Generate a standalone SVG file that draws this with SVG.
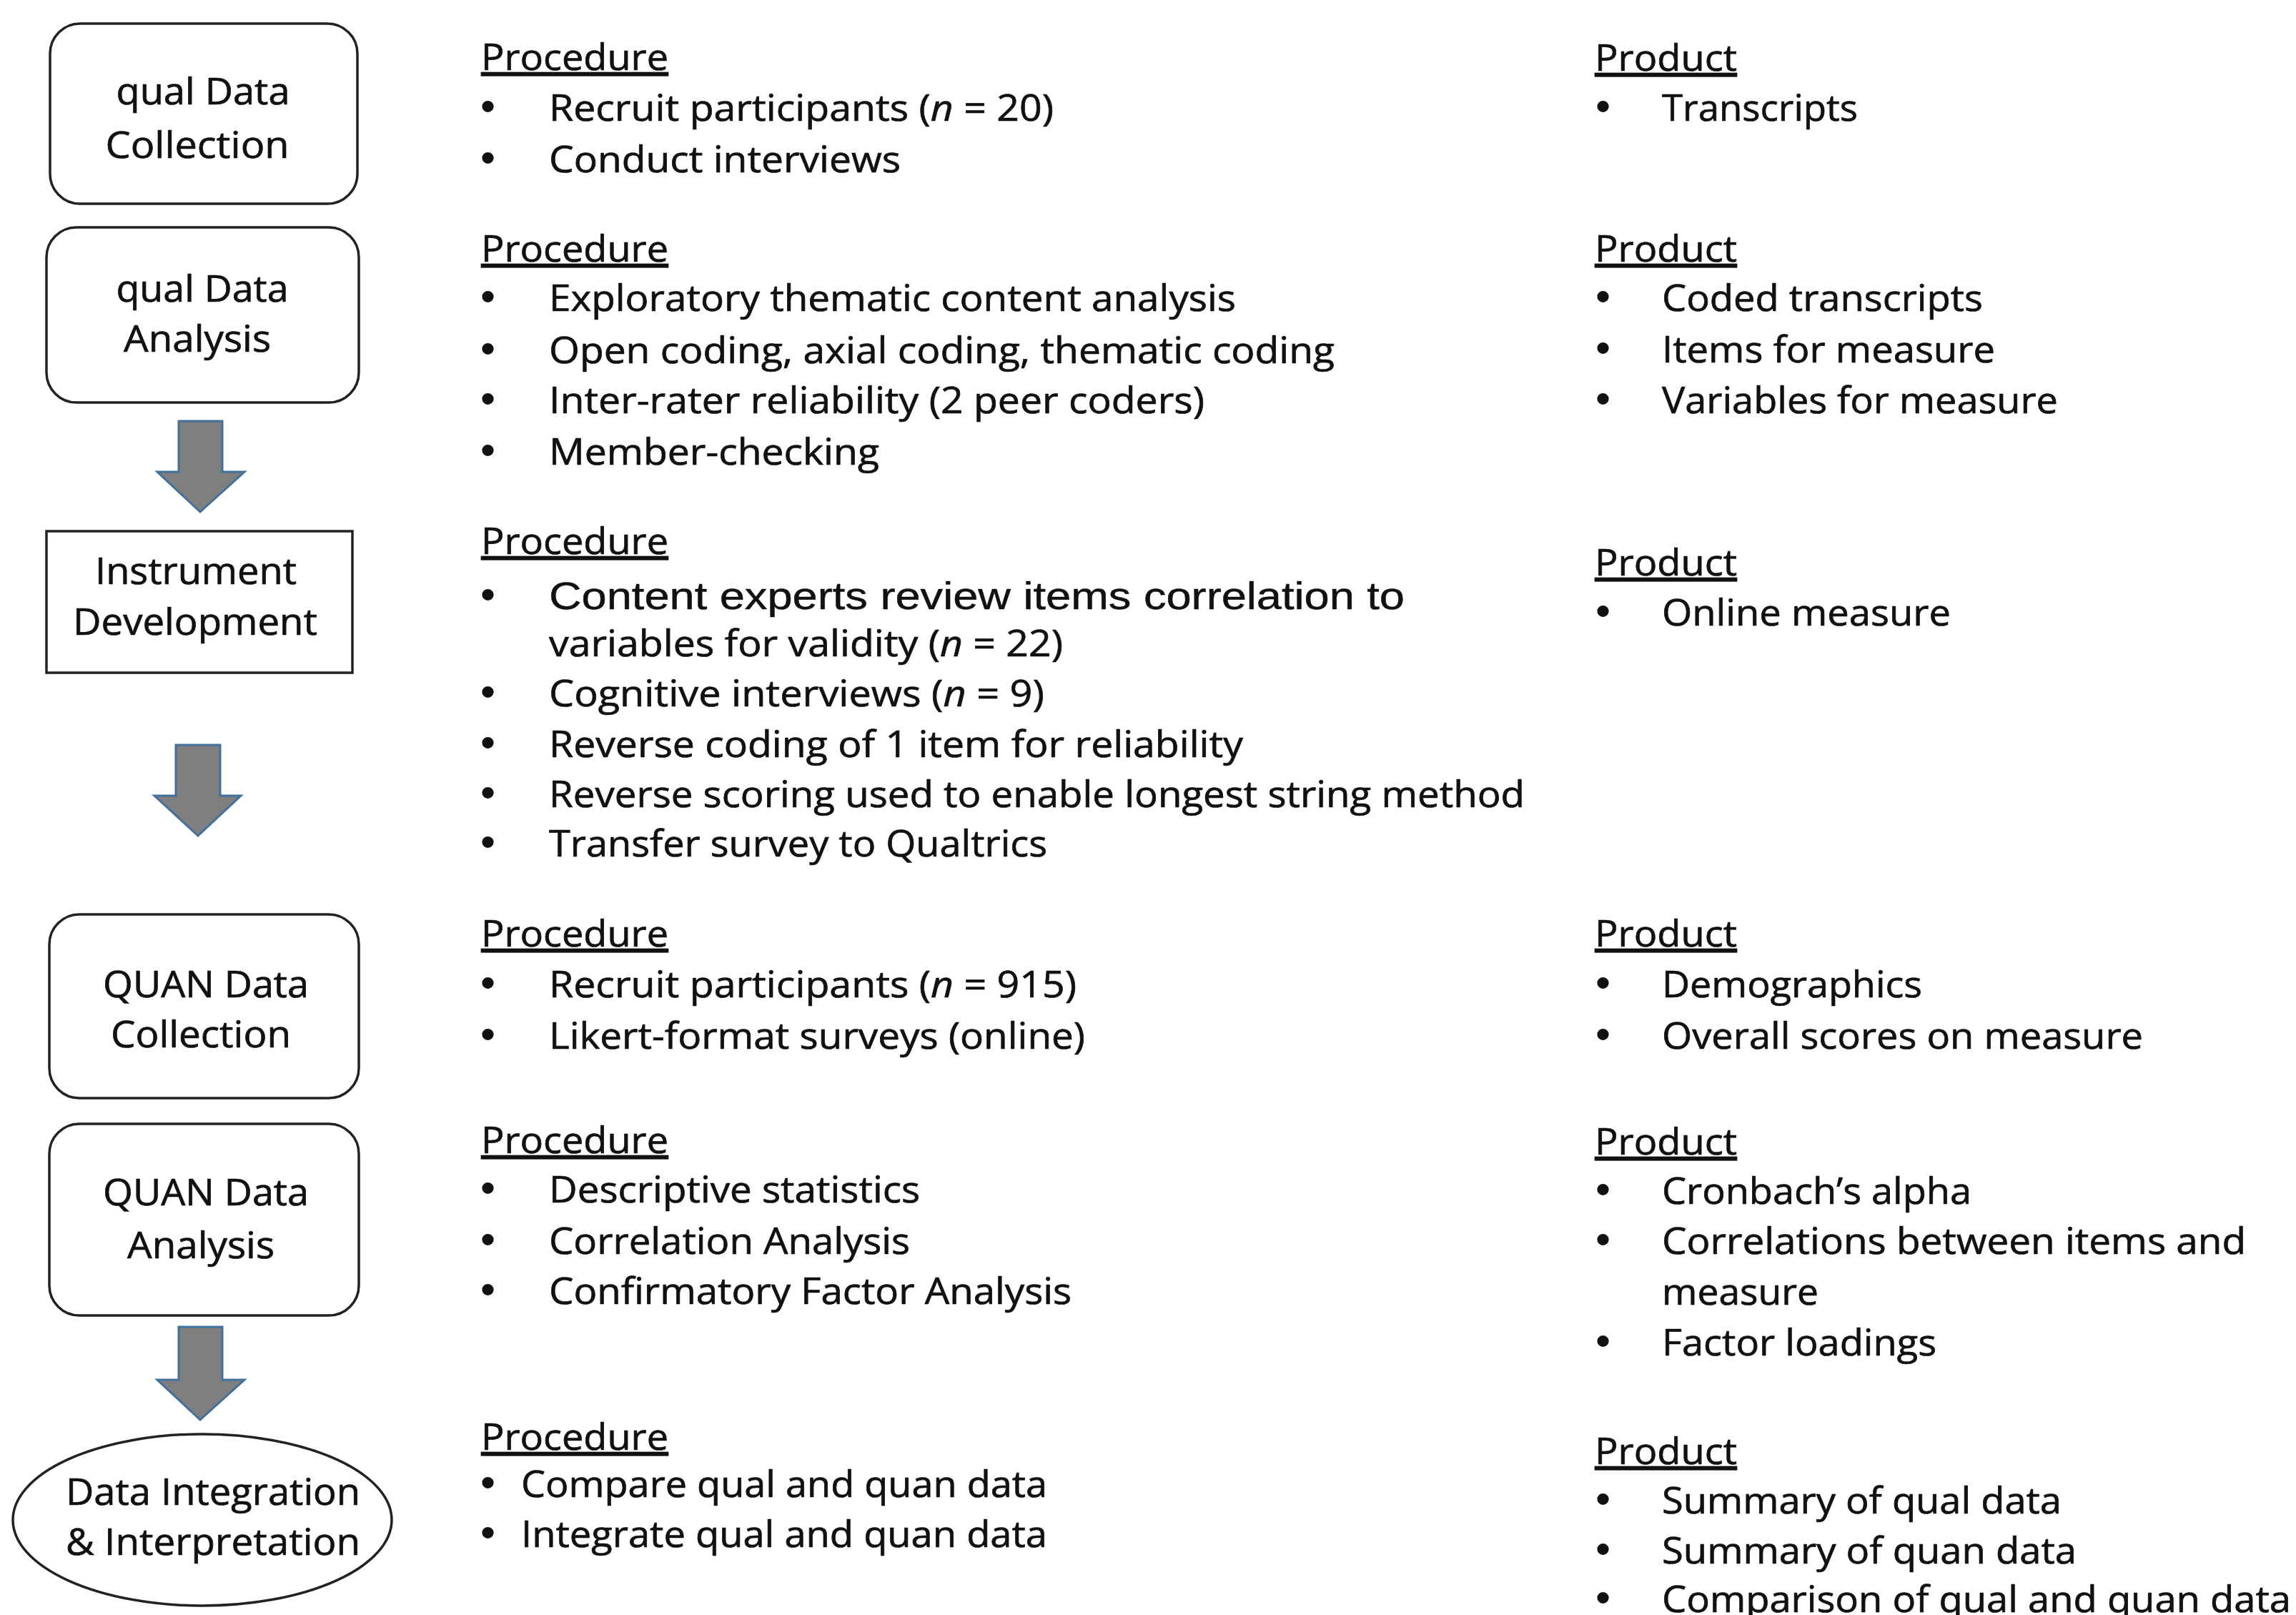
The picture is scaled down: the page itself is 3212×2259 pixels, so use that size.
<svg xmlns="http://www.w3.org/2000/svg" width="3212" height="2259" viewBox="0 0 3212 2259">
  <defs>
    <style>
      .node { fill: #ffffff; stroke: #222222; stroke-width: 3.5; }
      .lbl { font-family: "Open Sans", "Noto Sans", sans-serif; font-size: 51px; fill: #111111; stroke: #111111; stroke-width: 0.7; text-anchor: middle; }
      .txt { font-family: "Open Sans", "Noto Sans", sans-serif; font-size: 52px; fill: #111111; stroke: #111111; stroke-width: 0.7; }
      .bul { font-family: "Liberation Sans", Arial, sans-serif; font-size: 60px; fill: #111111; }
      .arial { font-family: "Liberation Sans", Arial, sans-serif; font-size: 54px; fill: #111111; stroke: #111111; stroke-width: 0.5; }
      .head { text-decoration: underline; }
      .arrow { fill: #7f7f7f; stroke: #41719c; stroke-width: 3; stroke-linejoin: miter; }
      .it { font-style: italic; }
    </style>
  </defs>
  <rect width="3212" height="2259" fill="#ffffff"/>

  <!-- flow arrows between stages -->
  <g id="connectors">
    <polygon class="arrow" points="250,589 311,589 311,660 342,660 280,716 220,660 250,660"/>
    <polygon class="arrow" points="246,1042 308,1042 308,1113 337,1113 277,1169 216,1113 246,1113"/>
    <polygon class="arrow" points="250,1856 311,1856 311,1930 342,1930 280,1986 220,1930 250,1930"/>
  </g>

  <!-- stage nodes -->
  <g id="qual-collection">
    <rect class="node" x="70" y="33" width="430" height="252" rx="42" ry="42"/>
    <text class="lbl" x="284" y="146" textLength="243" lengthAdjust="spacingAndGlyphs">qual Data</text>
    <text class="lbl" x="276" y="221" textLength="257" lengthAdjust="spacingAndGlyphs">Collection</text>
  </g>
  <g id="qual-analysis">
    <rect class="node" x="65" y="318" width="437" height="245" rx="42" ry="42"/>
    <text class="lbl" x="283" y="422" textLength="241" lengthAdjust="spacingAndGlyphs">qual Data</text>
    <text class="lbl" x="276" y="492" textLength="206" lengthAdjust="spacingAndGlyphs">Analysis</text>
  </g>
  <g id="instrument-development">
    <rect class="node" x="65" y="743" width="428" height="198"/>
    <text class="lbl" x="274" y="817" textLength="282" lengthAdjust="spacingAndGlyphs">Instrument</text>
    <text class="lbl" x="273" y="888" textLength="342" lengthAdjust="spacingAndGlyphs">Development</text>
  </g>
  <g id="quan-collection">
    <rect class="node" x="69" y="1279" width="433" height="257" rx="42" ry="42"/>
    <text class="lbl" x="288" y="1395" textLength="288" lengthAdjust="spacingAndGlyphs">QUAN Data</text>
    <text class="lbl" x="281" y="1465" textLength="252" lengthAdjust="spacingAndGlyphs">Collection</text>
  </g>
  <g id="quan-analysis">
    <rect class="node" x="69" y="1572" width="433" height="268" rx="42" ry="42"/>
    <text class="lbl" x="288" y="1686" textLength="288" lengthAdjust="spacingAndGlyphs">QUAN Data</text>
    <text class="lbl" x="281" y="1760" textLength="206" lengthAdjust="spacingAndGlyphs">Analysis</text>
  </g>
  <g id="integration">
    <ellipse class="node" cx="283" cy="2126" rx="265" ry="120"/>
    <text class="lbl" x="298" y="2105" textLength="412" lengthAdjust="spacingAndGlyphs">Data Integration</text>
    <text class="lbl" x="298" y="2175" textLength="412" lengthAdjust="spacingAndGlyphs">&amp; Interpretation</text>
  </g>

  <!-- procedure column -->
  <g id="procedures">
    <g id="proc-1">
      <text class="txt head" x="673" y="98" textLength="262" lengthAdjust="spacingAndGlyphs">Procedure</text>
      <text class="bul" x="672" y="169">•</text>
      <text class="txt" x="768" y="169" textLength="706" lengthAdjust="spacingAndGlyphs">Recruit participants (<tspan class="it">n</tspan> = 20)</text>
      <text class="bul" x="672" y="241">•</text>
      <text class="txt" x="768" y="241" textLength="492" lengthAdjust="spacingAndGlyphs">Conduct interviews</text>
    </g>
    <g id="proc-2">
      <text class="txt head" x="673" y="366" textLength="262" lengthAdjust="spacingAndGlyphs">Procedure</text>
      <text class="bul" x="672" y="435">•</text>
      <text class="txt" x="768" y="435" textLength="961" lengthAdjust="spacingAndGlyphs">Exploratory thematic content analysis</text>
      <text class="bul" x="672" y="508">•</text>
      <text class="txt" x="768" y="508" textLength="1099" lengthAdjust="spacingAndGlyphs">Open coding, axial coding, thematic coding</text>
      <text class="bul" x="672" y="578">•</text>
      <text class="txt" x="768" y="578" textLength="917" lengthAdjust="spacingAndGlyphs">Inter-rater reliability (2 peer coders)</text>
      <text class="bul" x="672" y="650">•</text>
      <text class="txt" x="768" y="650" textLength="462" lengthAdjust="spacingAndGlyphs">Member-checking</text>
    </g>
    <g id="proc-3">
      <text class="txt head" x="673" y="775" textLength="262" lengthAdjust="spacingAndGlyphs">Procedure</text>
      <text class="bul" x="672" y="852">•</text>
      <text class="arial" x="768" y="852" textLength="1197" lengthAdjust="spacingAndGlyphs">Content experts review items correlation to</text>
      <text class="txt" x="768" y="918" textLength="719" lengthAdjust="spacingAndGlyphs">variables for validity (<tspan class="it">n</tspan> = 22)</text>
      <text class="bul" x="672" y="988">•</text>
      <text class="txt" x="768" y="988" textLength="693" lengthAdjust="spacingAndGlyphs">Cognitive interviews (<tspan class="it">n</tspan> = 9)</text>
      <text class="bul" x="672" y="1059">•</text>
      <text class="txt" x="768" y="1059" textLength="971" lengthAdjust="spacingAndGlyphs">Reverse coding of 1 item for reliability</text>
      <text class="bul" x="672" y="1129">•</text>
      <text class="txt" x="768" y="1129" textLength="1365" lengthAdjust="spacingAndGlyphs">Reverse scoring used to enable longest string method</text>
      <text class="bul" x="672" y="1198">•</text>
      <text class="txt" x="768" y="1198" textLength="697" lengthAdjust="spacingAndGlyphs">Transfer survey to Qualtrics</text>
    </g>
    <g id="proc-4">
      <text class="txt head" x="673" y="1324" textLength="262" lengthAdjust="spacingAndGlyphs">Procedure</text>
      <text class="bul" x="672" y="1395">•</text>
      <text class="txt" x="768" y="1395" textLength="738" lengthAdjust="spacingAndGlyphs">Recruit participants (<tspan class="it">n</tspan> = 915)</text>
      <text class="bul" x="672" y="1467">•</text>
      <text class="txt" x="768" y="1467" textLength="750" lengthAdjust="spacingAndGlyphs">Likert-format surveys (online)</text>
    </g>
    <g id="proc-5">
      <text class="txt head" x="673" y="1613" textLength="262" lengthAdjust="spacingAndGlyphs">Procedure</text>
      <text class="bul" x="672" y="1682">•</text>
      <text class="txt" x="768" y="1682" textLength="519" lengthAdjust="spacingAndGlyphs">Descriptive statistics</text>
      <text class="bul" x="672" y="1754">•</text>
      <text class="txt" x="768" y="1754" textLength="505" lengthAdjust="spacingAndGlyphs">Correlation Analysis</text>
      <text class="bul" x="672" y="1824">•</text>
      <text class="txt" x="768" y="1824" textLength="731" lengthAdjust="spacingAndGlyphs">Confirmatory Factor Analysis</text>
    </g>
    <g id="proc-6">
      <text class="txt head" x="673" y="2028" textLength="262" lengthAdjust="spacingAndGlyphs">Procedure</text>
      <text class="bul" x="672" y="2094">•</text>
      <text class="txt" x="729" y="2094" textLength="736" lengthAdjust="spacingAndGlyphs">Compare qual and quan data</text>
      <text class="bul" x="672" y="2164">•</text>
      <text class="txt" x="729" y="2164" textLength="736" lengthAdjust="spacingAndGlyphs">Integrate qual and quan data</text>
    </g>
  </g>

  <!-- product column -->
  <g id="products">
    <g id="prod-1">
      <text class="txt head" x="2231" y="99" textLength="199" lengthAdjust="spacingAndGlyphs">Product</text>
      <text class="bul" x="2232" y="169">•</text>
      <text class="txt" x="2325" y="169" textLength="274" lengthAdjust="spacingAndGlyphs">Transcripts</text>
    </g>
    <g id="prod-2">
      <text class="txt head" x="2231" y="366" textLength="199" lengthAdjust="spacingAndGlyphs">Product</text>
      <text class="bul" x="2232" y="435">•</text>
      <text class="txt" x="2325" y="435" textLength="449" lengthAdjust="spacingAndGlyphs">Coded transcripts</text>
      <text class="bul" x="2232" y="507">•</text>
      <text class="txt" x="2325" y="507" textLength="466" lengthAdjust="spacingAndGlyphs">Items for measure</text>
      <text class="bul" x="2232" y="578">•</text>
      <text class="txt" x="2325" y="578" textLength="554" lengthAdjust="spacingAndGlyphs">Variables for measure</text>
    </g>
    <g id="prod-3">
      <text class="txt head" x="2231" y="805" textLength="199" lengthAdjust="spacingAndGlyphs">Product</text>
      <text class="bul" x="2232" y="875">•</text>
      <text class="txt" x="2325" y="875" textLength="404" lengthAdjust="spacingAndGlyphs">Online measure</text>
    </g>
    <g id="prod-4">
      <text class="txt head" x="2231" y="1324" textLength="199" lengthAdjust="spacingAndGlyphs">Product</text>
      <text class="bul" x="2232" y="1395">•</text>
      <text class="txt" x="2325" y="1395" textLength="364" lengthAdjust="spacingAndGlyphs">Demographics</text>
      <text class="bul" x="2232" y="1467">•</text>
      <text class="txt" x="2325" y="1467" textLength="673" lengthAdjust="spacingAndGlyphs">Overall scores on measure</text>
    </g>
    <g id="prod-5">
      <text class="txt head" x="2231" y="1615" textLength="199" lengthAdjust="spacingAndGlyphs">Product</text>
      <text class="bul" x="2232" y="1684">•</text>
      <text class="txt" x="2325" y="1684" textLength="433" lengthAdjust="spacingAndGlyphs">Cronbach’s alpha</text>
      <text class="bul" x="2232" y="1754">•</text>
      <text class="txt" x="2325" y="1754" textLength="817" lengthAdjust="spacingAndGlyphs">Correlations between items and</text>
      <text class="txt" x="2325" y="1825" textLength="219" lengthAdjust="spacingAndGlyphs">measure</text>
      <text class="bul" x="2232" y="1896">•</text>
      <text class="txt" x="2325" y="1896" textLength="384" lengthAdjust="spacingAndGlyphs">Factor loadings</text>
    </g>
    <g id="prod-6">
      <text class="txt head" x="2231" y="2048" textLength="199" lengthAdjust="spacingAndGlyphs">Product</text>
      <text class="bul" x="2232" y="2117">•</text>
      <text class="txt" x="2325" y="2117" textLength="559" lengthAdjust="spacingAndGlyphs">Summary of qual data</text>
      <text class="bul" x="2232" y="2187">•</text>
      <text class="txt" x="2325" y="2187" textLength="580" lengthAdjust="spacingAndGlyphs">Summary of quan data</text>
      <text class="bul" x="2232" y="2255">•</text>
      <text class="txt" x="2325" y="2255" textLength="880" lengthAdjust="spacingAndGlyphs">Comparison of qual and quan data</text>
    </g>
  </g>
</svg>
